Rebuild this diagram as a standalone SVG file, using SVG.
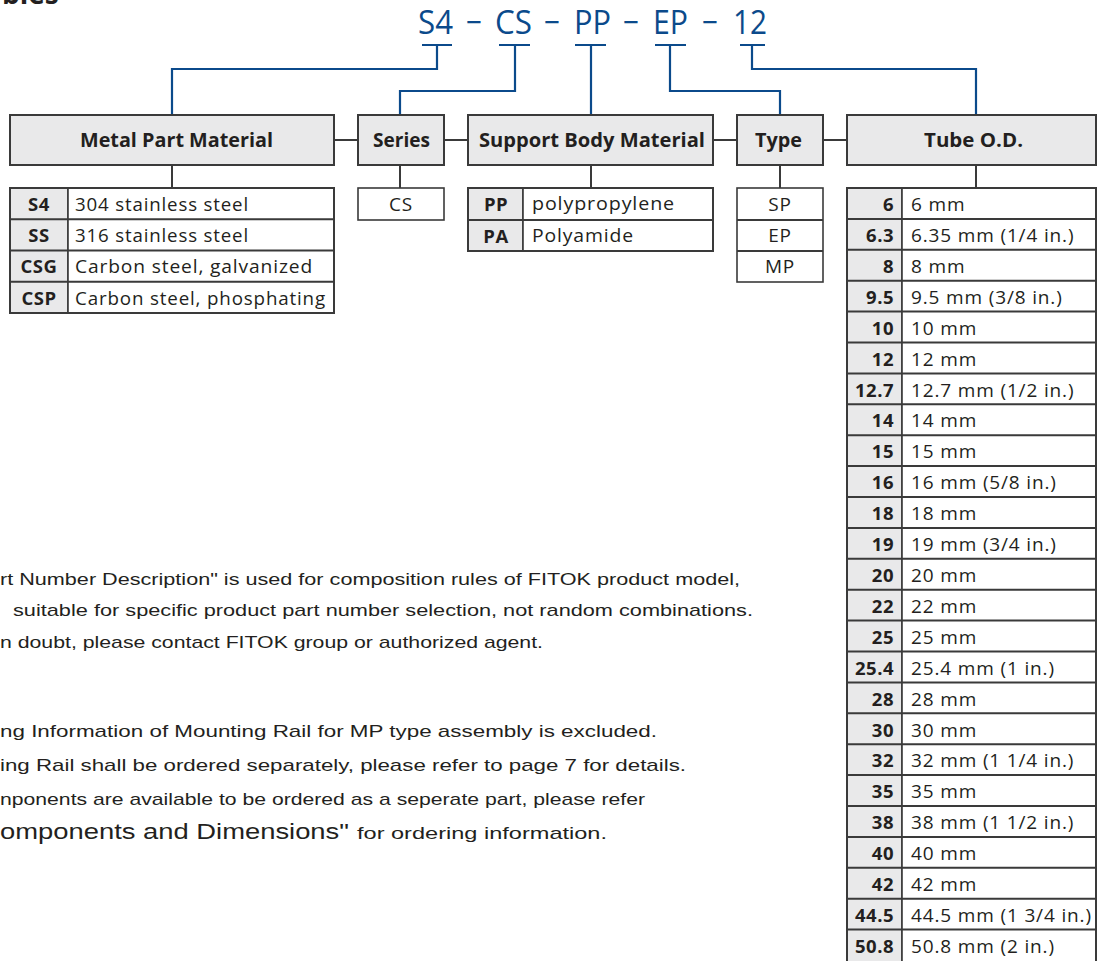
<svg xmlns="http://www.w3.org/2000/svg" width="1097" height="961" viewBox="0 0 1097 961">
<style>
.bg{fill:#ffffff}
.hdr{fill:#e9e9ea;stroke:#3a3a3a;stroke-width:2}
.cell{fill:#ffffff;stroke:#3a3a3a;stroke-width:1.6}
.code{fill:#e9e9ea;stroke:#3a3a3a;stroke-width:1.6}
.ht{font-family:"Open Sans","Liberation Sans",sans-serif;font-weight:bold;font-size:19px;fill:#231f20;text-anchor:middle}
.ct{font-family:"Open Sans","Liberation Sans",sans-serif;font-weight:bold;font-size:18.5px;letter-spacing:0.5px;fill:#231f20}
.tt{font-family:"Open Sans","Liberation Sans",sans-serif;font-size:19px;letter-spacing:0.85px;fill:#231f20}
.pn{font-family:"Open Sans","Liberation Sans",sans-serif;font-size:33px;fill:#0b4a8b}
.blue{fill:none;stroke:#0b4a8b;stroke-width:2.2}
.gray{fill:none;stroke:#3a3a3a;stroke-width:2}
.para{font-family:"Liberation Sans",sans-serif;font-size:17px;fill:#231f20}
</style>
<rect class="bg" x="0" y="0" width="1097" height="961"/>
<text x="2" y="4" font-family="Open Sans, Liberation Sans, sans-serif" font-weight="bold" font-size="28" fill="#231f20">bles</text>

<g id="partnumber">
<text class="pn" x="418" y="34" textLength="35" lengthAdjust="spacingAndGlyphs">S4</text>
<text class="pn" x="466" y="34" textLength="16" lengthAdjust="spacingAndGlyphs">−</text>
<text class="pn" x="495" y="34" textLength="37" lengthAdjust="spacingAndGlyphs">CS</text>
<text class="pn" x="544" y="34" textLength="16" lengthAdjust="spacingAndGlyphs">−</text>
<text class="pn" x="574" y="34" textLength="37" lengthAdjust="spacingAndGlyphs">PP</text>
<text class="pn" x="623" y="34" textLength="16" lengthAdjust="spacingAndGlyphs">−</text>
<text class="pn" x="653" y="34" textLength="35" lengthAdjust="spacingAndGlyphs">EP</text>
<text class="pn" x="702" y="34" textLength="16" lengthAdjust="spacingAndGlyphs">−</text>
<text class="pn" x="733" y="34" textLength="34" lengthAdjust="spacingAndGlyphs">12</text>
</g>

<g id="connectors">
<path class="blue" d="M422 45H452M437 45V69H172V115"/>
<path class="blue" d="M499 45H530M515 45V91H400V115"/>
<path class="blue" d="M575 45H606M591 45V115"/>
<path class="blue" d="M655 45H686M670 45V91H780V115"/>
<path class="blue" d="M740 45H765M752 45V69H976V115"/>
<path class="gray" d="M334 140H358M444 140H468M713 140H737M823 140H847"/>
<path class="gray" d="M172 165V188M400 165V188M591 165V188M780 165V188M976 165V188"/>
</g>

<g id="metal">
<rect class="hdr" x="10" y="115" width="324" height="50"/>
<text class="ht" x="176.5" y="147" textLength="193" lengthAdjust="spacingAndGlyphs">Metal Part Material</text>
</g>
<g id="series">
<rect class="hdr" x="358" y="115" width="86" height="50"/>
<text class="ht" x="401.5" y="147" textLength="57" lengthAdjust="spacingAndGlyphs">Series</text>
</g>
<g id="support">
<rect class="hdr" x="468" y="115" width="245" height="50"/>
<text class="ht" x="592" y="147" textLength="226" lengthAdjust="spacingAndGlyphs">Support Body Material</text>
</g>
<g id="type">
<rect class="hdr" x="737" y="115" width="86" height="50"/>
<text class="ht" x="778.5" y="147" textLength="47" lengthAdjust="spacingAndGlyphs">Type</text>
</g>
<g id="tube">
<rect class="hdr" x="847" y="115" width="249" height="50"/>
<text class="ht" x="973.5" y="147" textLength="99" lengthAdjust="spacingAndGlyphs">Tube O.D.</text>
</g>

<g id="metal-table">
<rect class="code" x="10" y="188" width="58" height="125"/>
<rect class="cell" x="68" y="188" width="266" height="125"/>
<path class="gray" stroke-width="1.6" d="M10 219.25H334M10 250.5H334M10 281.75H334"/>
<rect x="10" y="188" width="324" height="125" fill="none" stroke="#3a3a3a" stroke-width="2"/>
<g class="ct" text-anchor="middle">
<text x="39" y="211">S4</text>
<text x="39" y="242">SS</text>
<text x="39" y="273">CSG</text>
<text x="39" y="305">CSP</text>
</g>
<g class="tt">
<text x="75" y="211" textLength="174" lengthAdjust="spacingAndGlyphs">304 stainless steel</text>
<text x="75" y="242" textLength="174" lengthAdjust="spacingAndGlyphs">316 stainless steel</text>
<text x="75" y="273" textLength="238" lengthAdjust="spacingAndGlyphs">Carbon steel, galvanized</text>
<text x="75" y="305" textLength="251" lengthAdjust="spacingAndGlyphs">Carbon steel, phosphating</text>
</g>
</g>

<g id="series-table">
<rect class="cell" x="358" y="188" width="86" height="32" stroke-width="2"/>
<text class="tt" x="401" y="211" text-anchor="middle">CS</text>
</g>

<g id="support-table">
<rect class="code" x="468" y="188" width="55" height="63"/>
<rect class="cell" x="523" y="188" width="190" height="63"/>
<path class="gray" stroke-width="1.6" d="M468 220H713"/>
<rect x="468" y="188" width="245" height="63" fill="none" stroke="#3a3a3a" stroke-width="2"/>
<text class="ct" x="496" y="211" text-anchor="middle">PP</text>
<text class="ct" x="496" y="243" text-anchor="middle">PA</text>
<text class="tt" x="532" y="210" textLength="143" lengthAdjust="spacingAndGlyphs">polypropylene</text>
<text class="tt" x="532" y="242" textLength="102" lengthAdjust="spacingAndGlyphs">Polyamide</text>
</g>

<g id="type-table">
<rect class="cell" x="737" y="188" width="86" height="94" stroke-width="2"/>
<path class="gray" stroke-width="1.6" d="M737 220H823M737 251H823"/>
<g class="tt" text-anchor="middle">
<text x="780" y="211">SP</text>
<text x="780" y="242">EP</text>
<text x="780" y="273">MP</text>
</g>
</g>

<g id="tube-table">
<rect class="code" x="847" y="188" width="55" height="780"/>
<rect class="cell" x="902" y="188" width="194" height="780"/>
<path class="gray" stroke-width="1.6" d="M847 218.9H1096M847 249.8H1096M847 280.7H1096M847 311.6H1096M847 342.5H1096M847 373.4H1096M847 404.3H1096M847 435.2H1096M847 466.1H1096M847 497H1096M847 527.9H1096M847 558.8H1096M847 589.7H1096M847 620.6H1096M847 651.5H1096M847 682.4H1096M847 713.3H1096M847 744.2H1096M847 775.1H1096M847 806H1096M847 836.9H1096M847 867.8H1096M847 898.7H1096M847 929.6H1096"/>
<rect x="847" y="188" width="249" height="780" fill="none" stroke="#3a3a3a" stroke-width="2"/>
<g class="ct" text-anchor="end">
<text x="894" y="211">6</text>
<text x="894" y="242">6.3</text>
<text x="894" y="273">8</text>
<text x="894" y="304">9.5</text>
<text x="894" y="335">10</text>
<text x="894" y="366">12</text>
<text x="894" y="397">12.7</text>
<text x="894" y="427">14</text>
<text x="894" y="458">15</text>
<text x="894" y="489">16</text>
<text x="894" y="520">18</text>
<text x="894" y="551">19</text>
<text x="894" y="582">20</text>
<text x="894" y="613">22</text>
<text x="894" y="644">25</text>
<text x="894" y="675">25.4</text>
<text x="894" y="706">28</text>
<text x="894" y="737">30</text>
<text x="894" y="767">32</text>
<text x="894" y="798">35</text>
<text x="894" y="829">38</text>
<text x="894" y="860">40</text>
<text x="894" y="891">42</text>
<text x="894" y="922">44.5</text>
<text x="894" y="953">50.8</text>
</g>
<g class="tt">
<text x="911" y="211">6 mm</text>
<text x="911" y="242">6.35 mm (1/4 in.)</text>
<text x="911" y="273">8 mm</text>
<text x="911" y="304">9.5 mm (3/8 in.)</text>
<text x="911" y="335">10 mm</text>
<text x="911" y="366">12 mm</text>
<text x="911" y="397">12.7 mm (1/2 in.)</text>
<text x="911" y="427">14 mm</text>
<text x="911" y="458">15 mm</text>
<text x="911" y="489">16 mm (5/8 in.)</text>
<text x="911" y="520">18 mm</text>
<text x="911" y="551">19 mm (3/4 in.)</text>
<text x="911" y="582">20 mm</text>
<text x="911" y="613">22 mm</text>
<text x="911" y="644">25 mm</text>
<text x="911" y="675">25.4 mm (1 in.)</text>
<text x="911" y="706">28 mm</text>
<text x="911" y="737">30 mm</text>
<text x="911" y="767">32 mm (1 1/4 in.)</text>
<text x="911" y="798">35 mm</text>
<text x="911" y="829">38 mm (1 1/2 in.)</text>
<text x="911" y="860">40 mm</text>
<text x="911" y="891">42 mm</text>
<text x="911" y="922">44.5 mm (1 3/4 in.)</text>
<text x="911" y="953">50.8 mm (2 in.)</text>
</g>
</g>

<g id="notes" class="para">
<text x="0" y="585" textLength="740" lengthAdjust="spacingAndGlyphs">rt Number Description" is used for composition rules of FITOK product model,</text>
<text x="13" y="616" textLength="740" lengthAdjust="spacingAndGlyphs">suitable for specific product part number selection, not random combinations.</text>
<text x="0" y="648" textLength="543" lengthAdjust="spacingAndGlyphs">n doubt, please contact FITOK group or authorized agent.</text>
<text x="0" y="737" textLength="657" lengthAdjust="spacingAndGlyphs">ng Information of Mounting Rail for MP type assembly is excluded.</text>
<text x="0" y="771" textLength="686" lengthAdjust="spacingAndGlyphs">ing Rail shall be ordered separately, please refer to page 7 for details.</text>
<text x="0" y="805" textLength="645" lengthAdjust="spacingAndGlyphs">nponents are available to be ordered as a seperate part, please refer</text>
<text x="0" y="839" font-size="22" textLength="349" lengthAdjust="spacingAndGlyphs">omponents and Dimensions"</text>
<text x="357" y="839" textLength="250" lengthAdjust="spacingAndGlyphs">for ordering information.</text>
</g>
</svg>
